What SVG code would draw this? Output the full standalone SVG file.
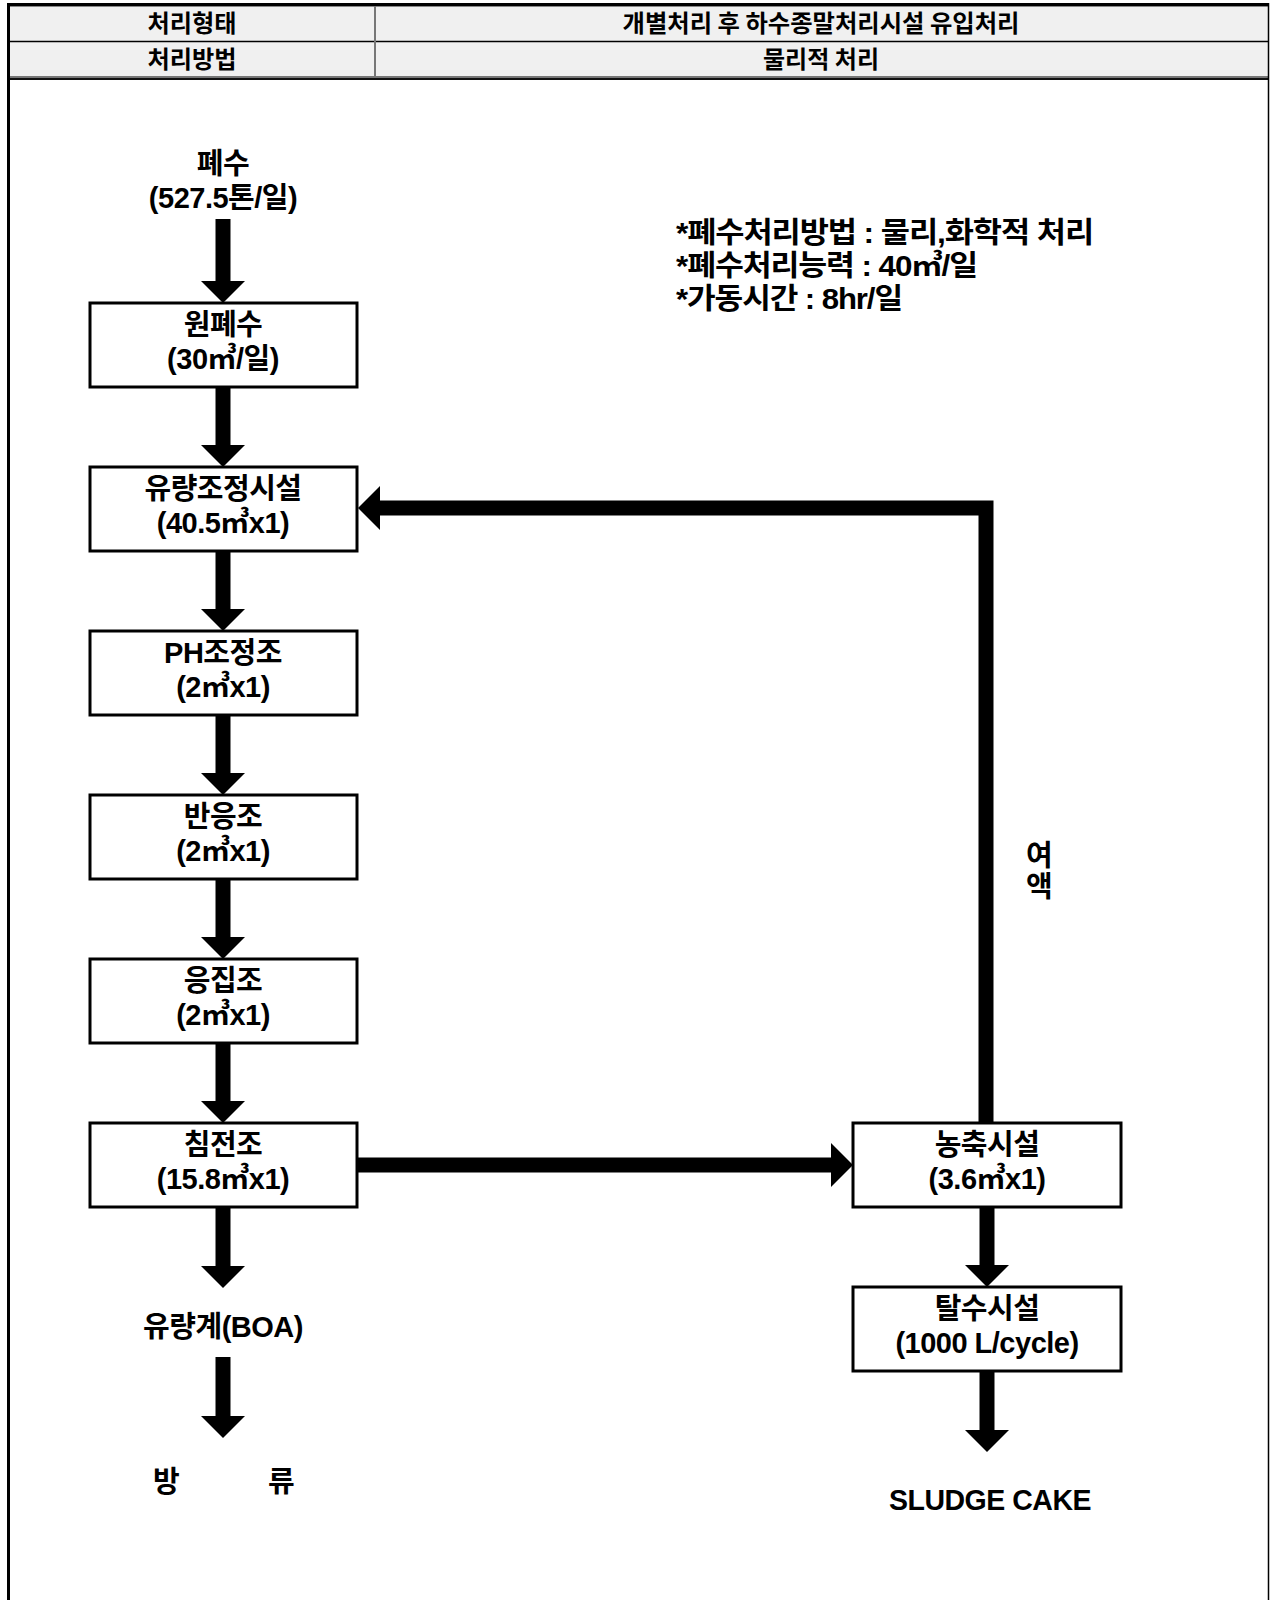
<svg xmlns="http://www.w3.org/2000/svg" width="1270" height="1600" viewBox="0 0 1270 1600">
  <style>
    .hdr { font-family: "Noto Sans CJK KR", sans-serif; font-size: 24px; font-weight: 700; fill: #000; text-anchor: middle; }
    .lbl { font-family: "Liberation Sans", "Noto Sans CJK KR", sans-serif; font-size: 29px; font-weight: 700; fill: #000; text-anchor: middle; letter-spacing: -0.5px; }
    .note { font-family: "Liberation Sans", "Noto Sans CJK KR", sans-serif; font-size: 29px; font-weight: 700; fill: #000; letter-spacing: -1px; }
    .box { fill: #fff; stroke: #000; stroke-width: 3; }
    .flow { fill: none; stroke: #000; stroke-width: 15; stroke-linejoin: miter; marker-end: url(#head); }
  </style>
  <defs>
    <marker id="head" viewBox="0 0 22 44" refX="1" refY="22" markerWidth="22" markerHeight="44" markerUnits="userSpaceOnUse" orient="auto">
      <path d="M0,0 L22,22 L0,44 Z" fill="#000"/>
    </marker>
  </defs>

  <rect width="1270" height="1600" fill="#fff"/>

  <!-- header table -->
  <g id="header">
    <rect x="10" y="6" width="1258" height="70" fill="#f0f0f0"/>
    <rect x="7" y="3" width="1262" height="3" fill="#000"/>
    <line x1="10" y1="6.5" x2="1268" y2="6.5" stroke="#888" stroke-width="1"/>
    <line x1="10" y1="41.5" x2="1268" y2="41.5" stroke="#000" stroke-width="1.5"/>
    <rect x="10" y="76" width="1258" height="2" fill="#777"/>
    <rect x="10" y="78" width="1258" height="2" fill="#111"/>
    <line x1="375" y1="6" x2="375" y2="78" stroke="#777" stroke-width="2"/>
    <text class="hdr" x="192" y="32" textLength="89" lengthAdjust="spacingAndGlyphs">처리형태</text>
    <text class="hdr" x="821" y="32" textLength="397" lengthAdjust="spacingAndGlyphs">개별처리 후 하수종말처리시설 유입처리</text>
    <text class="hdr" x="192" y="68" textLength="89" lengthAdjust="spacingAndGlyphs">처리방법</text>
    <text class="hdr" x="821" y="68" textLength="116" lengthAdjust="spacingAndGlyphs">물리적 처리</text>
  </g>

  <!-- outer frame -->
  <rect x="7" y="3" width="3" height="1597" fill="#000"/>
  <line x1="1268.5" y1="3" x2="1268.5" y2="1600" stroke="#000" stroke-width="1.5"/>

  <!-- notes -->
  <g id="notes">
    <text class="note" x="676" y="243" textLength="417" lengthAdjust="spacingAndGlyphs">*폐수처리방법 : 물리,화학적 처리</text>
    <text class="note" x="676" y="276" textLength="301" lengthAdjust="spacingAndGlyphs">*폐수처리능력 : 40㎥/일</text>
    <text class="note" x="676" y="309" textLength="226" lengthAdjust="spacingAndGlyphs">*가동시간 : 8hr/일</text>
  </g>

  <!-- connectors -->
  <g id="connectors">
    <line class="flow" x1="223" y1="219" x2="223" y2="282"/>
    <line class="flow" x1="223" y1="387" x2="223" y2="446"/>
    <line class="flow" x1="223" y1="551" x2="223" y2="610"/>
    <line class="flow" x1="223" y1="715" x2="223" y2="774"/>
    <line class="flow" x1="223" y1="879" x2="223" y2="938"/>
    <line class="flow" x1="223" y1="1043" x2="223" y2="1102"/>
    <line class="flow" x1="223" y1="1207" x2="223" y2="1267"/>
    <line class="flow" x1="223" y1="1357" x2="223" y2="1417"/>
    <line class="flow" x1="357" y1="1165" x2="832" y2="1165"/>
    <line class="flow" x1="987" y1="1207" x2="987" y2="1266"/>
    <line class="flow" x1="987" y1="1371" x2="987" y2="1431"/>
    <polyline class="flow" points="986,1123 986,508 379,508"/>
  </g>

  <!-- nodes -->
  <g id="n-source">
    <text class="lbl" x="223" y="174">폐수</text>
    <text class="lbl" x="223" y="208">(527.5톤/일)</text>
  </g>
  <g id="n-raw">
    <rect class="box" x="90" y="303" width="267" height="84"/>
    <text class="lbl" x="223" y="335">원폐수</text>
    <text class="lbl" x="223" y="369">(30㎥/일)</text>
  </g>
  <g id="n-equalization">
    <rect class="box" x="90" y="467" width="267" height="84"/>
    <text class="lbl" x="223" y="499">유량조정시설</text>
    <text class="lbl" x="223" y="533">(40.5㎥x1)</text>
  </g>
  <g id="n-ph">
    <rect class="box" x="90" y="631" width="267" height="84"/>
    <text class="lbl" x="223" y="663">PH조정조</text>
    <text class="lbl" x="223" y="697">(2㎥x1)</text>
  </g>
  <g id="n-reaction">
    <rect class="box" x="90" y="795" width="267" height="84"/>
    <text class="lbl" x="223" y="827">반응조</text>
    <text class="lbl" x="223" y="861">(2㎥x1)</text>
  </g>
  <g id="n-coagulation">
    <rect class="box" x="90" y="959" width="267" height="84"/>
    <text class="lbl" x="223" y="991">응집조</text>
    <text class="lbl" x="223" y="1025">(2㎥x1)</text>
  </g>
  <g id="n-settling">
    <rect class="box" x="90" y="1123" width="267" height="84"/>
    <text class="lbl" x="223" y="1155">침전조</text>
    <text class="lbl" x="223" y="1189">(15.8㎥x1)</text>
  </g>
  <g id="n-meter">
    <text class="lbl" x="223" y="1337">유량계(BOA)</text>
  </g>
  <g id="n-discharge">
    <text class="lbl" x="166" y="1492">방</text>
    <text class="lbl" x="281" y="1492">류</text>
  </g>
  <g id="n-thickener">
    <rect class="box" x="853" y="1123" width="268" height="84"/>
    <text class="lbl" x="987" y="1155">농축시설</text>
    <text class="lbl" x="987" y="1189">(3.6㎥x1)</text>
  </g>
  <g id="n-dewatering">
    <rect class="box" x="853" y="1287" width="268" height="84"/>
    <text class="lbl" x="987" y="1319">탈수시설</text>
    <text class="lbl" x="987" y="1353">(1000 L/cycle)</text>
  </g>
  <g id="n-cake">
    <text class="lbl" x="990" y="1510" textLength="202" lengthAdjust="spacingAndGlyphs">SLUDGE CAKE</text>
  </g>
  <g id="n-supernatant">
    <text class="lbl" x="1039" y="866">여</text>
    <text class="lbl" x="1039" y="897">액</text>
  </g>
</svg>
